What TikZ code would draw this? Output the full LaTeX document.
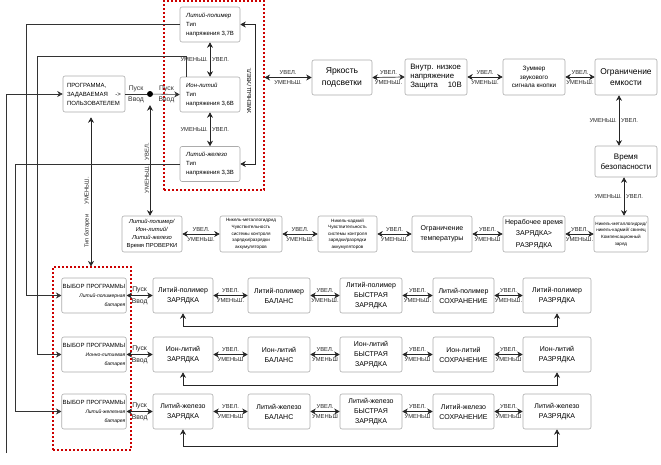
\documentclass[tikz,border=0pt]{standalone}
\usepackage{fontspec}
\setmainfont{Liberation Sans}
\usetikzlibrary{arrows.meta}

\tikzset{
  box/.style={draw=gray!65, fill=white, rounded corners=2pt, line width=0.6pt, inner sep=1pt, align=center, font=\fontsize{7}{10}\selectfont},
  tiny/.style={font=\fontsize{4.6}{6.6}\selectfont},
  small/.style={font=\fontsize{6}{9}\selectfont},
  lbl/.style={font=\fontsize{5.8}{7}\selectfont, inner sep=0.8pt},
  lblp/.style={font=\fontsize{6.8}{8}\selectfont, inner sep=1pt},
  biarrow/.style={{Stealth[length=5.5pt,width=6pt]}-{Stealth[length=5.5pt,width=6pt]}, line width=0.7pt, black!85},
  onearrow/.style={-{Stealth[length=5.5pt,width=6pt]}, line width=0.6pt, black!80},
  wire/.style={-, line width=0.6pt, black!80},
  group/.style={draw=red!80!black, dash pattern=on 2pt off 2pt, line width=1.1pt, inner sep=0pt},
}

\begin{document}
\begin{tikzpicture}[x=1pt,y=-1pt]
\useasboundingbox (0,0) rectangle (661,464);

% groups
\node[group, minimum width=100pt, minimum height=189pt] (grpV) at (214,95.5) {};
\node[group, minimum width=78pt, minimum height=183pt] (grpS) at (92,358.5) {};

% battery voltage
\node[box, small, align=left, minimum width=60pt, minimum height=35pt] (lipo) at (210,24.5) {\textit{Литий-полимер}\\Тип\\напряжения 3,7В};
\node[box, small, align=left, minimum width=60pt, minimum height=35pt] (ion) at (210,94.5) {\textit{Ион-литий}\\Тип\\напряжения 3,6В};
\node[box, small, align=left, minimum width=60pt, minimum height=35pt] (life) at (210,164) {\textit{Литий-железо}\\Тип\\напряжения 3,3В};

\node[box, small, align=left, minimum width=62pt, minimum height=36pt] (prog) at (94,94) {ПРОГРАММА,\\\makebox[54pt][l]{ЗАДАВАЕМАЯ\hfill-{}>}\\ПОЛЬЗОВАТЕЛЕМ};
\node[circle, fill=black, inner sep=0pt, minimum size=6pt] (dot) at (150,94) {};

% top row
\node[box, font=\fontsize{8.6}{11.5}\selectfont, minimum width=60pt, minimum height=35pt] (bright) at (342,77.5) {Яркость\\подсветки};
\node[box, font=\fontsize{7.8}{9}\selectfont, align=left, minimum width=62pt, minimum height=36pt] (protect) at (436,77) {Внутр. низкое\\напряжение\\Защита \quad 10В};
\node[box, font=\fontsize{6.3}{8.5}\selectfont, minimum width=62pt, minimum height=36pt] (buzz) at (534,77) {Зуммер\\звукового\\сигнала кнопки};
\node[box, font=\fontsize{8.4}{11.5}\selectfont, minimum width=62pt, minimum height=36pt] (caplim) at (626,77) {Ограничение\\емкости};
\node[box, font=\fontsize{8}{10}\selectfont, minimum width=62pt, minimum height=31pt] (safe) at (626,161.5) {Время\\безопасности};

% middle row
\node[box, tiny, minimum width=54pt, minimum height=36pt] (comp) at (621,234) {Никель-металлогидрид/\\никель-кадмий/ свинец\\Компенсационный\\заряд};
\node[box, font=\fontsize{7}{11.5}\selectfont, minimum width=62pt, minimum height=36pt] (idle) at (534,234) {Нерабочее время\\ЗАРЯДКА>\\РАЗРЯДКА};
\node[box, minimum width=60pt, minimum height=36pt] (temp) at (442,234) {Ограничение\\температуры};
\node[box, tiny, minimum width=59pt, minimum height=36pt] (nicd) at (347.5,234) {Никель-кадмий\\Чувствительность\\системы контроля\\зарядки/разрядки\\аккумуляторов};
\node[box, tiny, minimum width=62pt, minimum height=36pt] (nimh) at (251,234) {Никель-металлогидрид\\Чувствительность\\системы контроля\\зарядки/разрядки\\аккумуляторов};
\node[box, font=\fontsize{5.8}{8.3}\selectfont, minimum width=60pt, minimum height=36pt] (check) at (152,234) {\textit{Литий-полимер/}\\\textit{Ион-литий/}\\\textit{Литий-железо}\\Время ПРОВЕРКИ};

% program select
\node[box, small, align=right, minimum width=62pt, minimum height=35pt] (selA) at (94,295.5) {ВЫБОР ПРОГРАММЫ\\{\fontsize{5}{9}\selectfont\textit{Литий-полимерная}}\\{\fontsize{5}{9}\selectfont\textit{батарея}}};
\node[box, small, align=right, minimum width=62pt, minimum height=35pt] (selB) at (94,354.5) {ВЫБОР ПРОГРАММЫ\\{\fontsize{5}{9}\selectfont\textit{Ионно-литиевая}}\\{\fontsize{5}{9}\selectfont\textit{батарея}}};
\node[box, small, align=right, minimum width=62pt, minimum height=35pt] (selC) at (94,411.5) {ВЫБОР ПРОГРАММЫ\\{\fontsize{5}{9}\selectfont\textit{Литий-железная}}\\{\fontsize{5}{9}\selectfont\textit{батарея}}};

% lithium polymer row
\node[box, minimum width=60pt, minimum height=35pt] (chgA) at (183,295.5) {Литий-полимер\\ЗАРЯДКА};
\node[box, minimum width=62pt, minimum height=35pt] (balA) at (279,295.5) {Литий-полимер\\БАЛАНС};
\node[box, minimum width=62pt, minimum height=35pt] (fastA) at (371,295.5) {Литий-полимер\\БЫСТРАЯ\\ЗАРЯДКА};
\node[box, minimum width=61pt, minimum height=35pt] (storA) at (463.5,295.5) {Литий-полимер\\СОХРАНЕНИЕ};
\node[box, minimum width=68pt, minimum height=35pt] (disA) at (557,295.5) {Литий-полимер\\РАЗРЯДКА};

% lithium ion row
\node[box, minimum width=60pt, minimum height=35pt] (chgB) at (183,354.5) {Ион-литий\\ЗАРЯДКА};
\node[box, minimum width=62pt, minimum height=35pt] (balB) at (279,354.5) {Ион-литий\\БАЛАНС};
\node[box, minimum width=62pt, minimum height=35pt] (fastB) at (371,354.5) {Ион-литий\\БЫСТРАЯ\\ЗАРЯДКА};
\node[box, minimum width=61pt, minimum height=35pt] (storB) at (463.5,354.5) {Ион-литий\\СОХРАНЕНИЕ};
\node[box, minimum width=68pt, minimum height=35pt] (disB) at (557,354.5) {Ион-литий\\РАЗРЯДКА};

% lithium iron row
\node[box, minimum width=60pt, minimum height=35pt] (chgC) at (183,411.5) {Литий-железо\\ЗАРЯДКА};
\node[box, minimum width=62pt, minimum height=35pt] (balC) at (279,411.5) {Литий-железо\\БАЛАНС};
\node[box, minimum width=62pt, minimum height=35pt] (fastC) at (371,411.5) {Литий-железо\\БЫСТРАЯ\\ЗАРЯДКА};
\node[box, minimum width=61pt, minimum height=35pt] (storC) at (463.5,411.5) {Литий-железо\\СОХРАНЕНИЕ};
\node[box, minimum width=68pt, minimum height=35pt] (disC) at (557,411.5) {Литий-железо\\РАЗРЯДКА};

\coordinate (inp) at (6,453);

% voltage column
\draw[biarrow] (lipo.south) -- node[lbl, left=1pt] {УМЕНЬШ.} node[lbl, right=1pt] {УВЕЛ.} (ion.north);
\draw[biarrow] (ion.south) -- node[lbl, left=1pt] {УМЕНЬШ.} node[lbl, right=1pt] {УВЕЛ.} (life.north);
\draw[biarrow] (lipo.east) -- ++(15,0) |- (life.east);
\node[lbl, rotate=90] (vlab) at (249,91) {УМЕНЬШ./УВЕЛ.};
\draw[biarrow] (bright.west -| grpV.east) -- node[lbl, above=1.5pt] {УВЕЛ.} node[lbl, below=2pt] {УМЕНЬШ.} (bright.west);

% program and start
\draw[onearrow] (inp) |- (prog.west);
\draw[wire] (prog.east) -- node[lblp, above=1pt] {Пуск} node[lblp, below=1.5pt] {Ввод} (dot);
\draw[onearrow] (dot) -- node[lblp, above=1pt] {Пуск} node[lblp, below=1.5pt] {Ввод} (ion.west);
\draw[biarrow, shorten <=8pt] (dot) -- node[lbl, rotate=90, above, pos=0.6] {УМЕНЬШ.\quad УВЕЛ.} (dot |- check.north);
\draw[biarrow, shorten <=5pt] ([xshift=-3pt]prog.south) -- node[lbl, rotate=90, above, pos=0.65] {Тип батареи\hspace{10pt}УМЕНЬШ.} ([xshift=-3pt]prog.south |- grpS.north);

% voltage to program select
\draw[onearrow] (lipo.west) -| (26,295.5) -- (selA.west);
\draw[onearrow] ([xshift=7pt]ion.north west) |- (37,56) |- (selB.west);
\draw[onearrow] (life.west) -| (15,411.5) -- (selC.west);

% top row
\draw[biarrow] (bright.east) -- node[lbl, above=1.5pt] {УВЕЛ.} node[lbl, below=2pt] {УМЕНЬШ.} (protect.west);
\draw[biarrow] (protect.east) -- node[lbl, above=1.5pt] {УВЕЛ.} node[lbl, below=2pt] {УМЕНЬШ.} (buzz.west);
\draw[biarrow] (buzz.east) -- node[lbl, above=1.5pt] {УВЕЛ.} node[lbl, below=2pt] {УМЕНЬШ.} (caplim.west);
\draw[biarrow] ([xshift=-7pt]caplim.south) -- node[lbl, left=1pt] {УМЕНЬШ.} node[lbl, right=1pt] {УВЕЛ.} ([xshift=-7pt]safe.north);
\draw[biarrow] ([xshift=-2pt]safe.south) -- node[lbl, left=1pt] {УМЕНЬШ.} node[lbl, right=1pt] {УВЕЛ.} ([xshift=-2pt]safe.south |- comp.north);

% middle row
\draw[biarrow] (comp.west) -- node[lbl, above=1.5pt] {УВЕЛ.} node[lbl, below=2pt] {УМЕНЬШ.} (idle.east);
\draw[biarrow] (idle.west) -- node[lbl, above=1.5pt] {УВЕЛ.} node[lbl, below=2pt] {УМЕНЬШ} (temp.east);
\draw[biarrow] (temp.west) -- node[lbl, above=1.5pt] {УВЕЛ.} node[lbl, below=2pt] {УМЕНЬШ.} (nicd.east);
\draw[biarrow] (nicd.west) -- node[lbl, above=1.5pt] {УВЕЛ.} node[lbl, below=2pt] {УМЕНЬШ.} (nimh.east);
\draw[biarrow] (nimh.west) -- node[lbl, above=1.5pt] {УВЕЛ.} node[lbl, below=2pt] {УМЕНЬШ.} (check.east);

% lithium polymer row
\draw[biarrow] (selA.east) -- node[lblp, above=1pt] {Пуск} node[lblp, below=1.5pt] {Ввод} (chgA.west);
\draw[biarrow] (chgA.east) -- node[lbl, above=1.5pt] {УВЕЛ.} node[lbl, below=2pt] {УМЕНЬШ.} (balA.west);
\draw[biarrow] (balA.east) -- node[lbl, above=1.5pt] {УВЕЛ.} node[lbl, below=2pt] {УМЕНЬШ.} (fastA.west);
\draw[biarrow] (fastA.east) -- node[lbl, above=1.5pt] {УВЕЛ.} node[lbl, below=2pt] {УМЕНЬШ.} (storA.west);
\draw[biarrow] (storA.east) -- node[lbl, above=1.5pt] {УВЕЛ.} node[lbl, below=2pt] {УМЕНЬШ.} (disA.west);
\draw[biarrow] (chgA.south) -- ++(0,13) -| (disA.south);

% lithium ion row
\draw[biarrow] (selB.east) -- node[lblp, above=1pt] {Пуск} node[lblp, below=1.5pt] {Ввод} (chgB.west);
\draw[biarrow] (chgB.east) -- node[lbl, above=1.5pt] {УВЕЛ.} node[lbl, below=2pt] {УМЕНЬШ} (balB.west);
\draw[biarrow] (balB.east) -- node[lbl, above=1.5pt] {УВЕЛ.} node[lbl, below=2pt] {УМЕНЬШ} (fastB.west);
\draw[biarrow] (fastB.east) -- node[lbl, above=1.5pt] {УВЕЛ.} node[lbl, below=2pt] {УМЕНЬШ} (storB.west);
\draw[biarrow] (storB.east) -- node[lbl, above=1.5pt] {УВЕЛ.} node[lbl, below=2pt] {УМЕНЬШ} (disB.west);
\draw[biarrow] (chgB.south) -- ++(0,13) -| (disB.south);

% lithium iron row
\draw[biarrow] (selC.east) -- node[lblp, above=1pt] {Пуск} node[lblp, below=1.5pt] {Ввод} (chgC.west);
\draw[biarrow] (chgC.east) -- node[lbl, above=1.5pt] {УВЕЛ.} node[lbl, below=2pt] {УМЕНЬШ} (balC.west);
\draw[biarrow] (balC.east) -- node[lbl, above=1.5pt] {УВЕЛ.} node[lbl, below=2pt] {УМЕНЬШ} (fastC.west);
\draw[biarrow] (fastC.east) -- node[lbl, above=1.5pt] {УВЕЛ.} node[lbl, below=2pt] {УМЕНЬШ} (storC.west);
\draw[biarrow] (storC.east) -- node[lbl, above=1.5pt] {УВЕЛ.} node[lbl, below=2pt] {УМЕНЬШ} (disC.west);
\draw[biarrow] (chgC.south) -- ++(0,17) -| (disC.south);
\end{tikzpicture}
\end{document}
